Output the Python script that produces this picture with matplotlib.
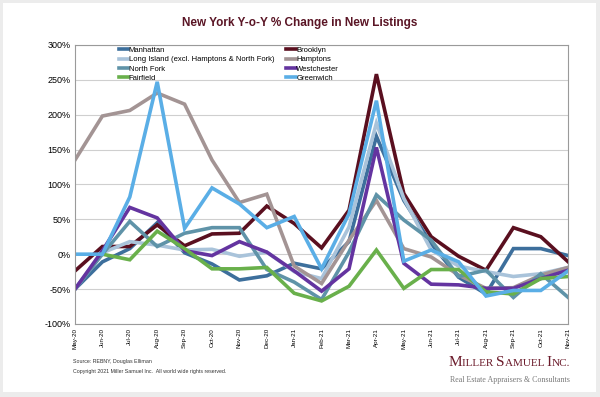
import numpy as np
import matplotlib.pyplot as plt
from matplotlib.patches import Rectangle
from matplotlib.offsetbox import TextArea, HPacker, AnnotationBbox

plt.rcParams['font.family'] = ['Liberation Sans', 'DejaVu Sans']

months = ['May-20', 'Jun-20', 'Jul-20', 'Aug-20', 'Sep-20', 'Oct-20', 'Nov-20', 'Dec-20',
          'Jan-21', 'Feb-21', 'Mar-21', 'Apr-21', 'May-21', 'Jun-21', 'Jul-21', 'Aug-21',
          'Sep-21', 'Oct-21', 'Nov-21']

nan = np.nan
manhattan = [-50, -11, 8, 45, 2, -14, -37, -31, -13, -21, 18, 169, 77, 15, -33, -57, 8, 8, -2]
brooklyn = [-24, 11, 11, 42, 12, 29, 30, 69, 44, 9, 63, 258, 87, 25, -3, -23, 38, 25, -11]
long_island = [-50, 2, 18, 13, 6, 7, -3, 3, -25, -35, 39, 188, 80, 6, -17, -25, -32, -28, -19]
hamptons = [135, 198, 206, 231, 215, 135, 74, 86, -17, -42, 20, 77, 8, -4, -30, -49, -48, -30, -19]
north_fork = [-50, 0, 47, 11, 30, 38, 38, -22, -40, -65, 3, 85, 49, 20, -32, -23, -62, -28, -62]
westchester = [-50, 5, 67, 52, 5, -2, 18, 3, -24, -53, -21, 153, -13, -43, -44, -49, -49, -35, -23]
fairfield = [nan, 0, -8, 33, 8, -21, -21, -19, -56, -67, -46, 6, -49, -22, -22, -54, -57, -35, -32]
greenwich = [0, 0, 82, 247, 37, 95, 72, 38, 54, -21, 58, 220, -10, 6, -11, -60, -52, -52, -24]

names = ['Manhattan', 'Brooklyn', 'Long Island (excl. Hamptons & North Fork)', 'Hamptons',
         'North Fork', 'Westchester', 'Fairfield', 'Greenwich']
series = [manhattan, brooklyn, long_island, hamptons, north_fork, westchester, fairfield, greenwich]
colors = ['#3d6f9c', '#5a0f1f', '#a9c3da', '#a39494', '#5f93a8', '#6434a0', '#69b04b', '#5aaee6']

fig = plt.figure(figsize=(6, 3.97), dpi=100)
fig.patch.set_facecolor('#ececec')
fig.patches.append(Rectangle((3 / 600, 5 / 397), 593 / 600, 389 / 397, transform=fig.transFigure,
                             facecolor='white', edgecolor='none', zorder=-10))

ax = fig.add_axes([0.125, 0.184, 0.822, 0.703])
x = np.arange(len(months))
lines = []
for name, vals, c in zip(names, series, colors):
    ln, = ax.plot(x, vals, color=c, lw=2.6, label=name, solid_joinstyle='miter')
    lines.append(ln)

ax.set_xlim(0, len(months) - 1)
ax.set_ylim(-100, 300)
ax.set_yticks(range(-100, 301, 50))
ax.set_yticklabels(['{}%'.format(v) for v in range(-100, 301, 50)], fontsize=6.5)
ax.set_xticks(x)
ax.set_xticklabels(months, rotation=90, fontsize=4.5)
ax.tick_params(length=0, pad=3)
ax.grid(axis='y', color='#cfcfcf', lw=0.8)
ax.set_axisbelow(True)
for s in ax.spines.values():
    s.set_color('#9a9a9a')
    s.set_linewidth(0.8)

order = [0, 2, 4, 6, 1, 3, 5, 7]
leg = ax.legend([lines[i] for i in order], [names[i] for i in order], ncol=2,
                loc='upper left', bbox_to_anchor=(115 / 600, 1 - 43 / 397),
                bbox_transform=fig.transFigure, frameon=False, fontsize=5.5,
                handlelength=1.2, handletextpad=0.1, labelspacing=0.25,
                columnspacing=1.6, borderpad=0)

fig.text(0.5, 1 - 23 / 397, 'New York Y-o-Y % Change in New Listings', ha='center', va='center',
         fontsize=8.5, fontweight='bold', color='#5a1525')

fig.text(73 / 600, 1 - 362 / 397, 'Source: REBNY, Douglas Elliman', fontsize=3.8, va='center', color='#333333')
fig.text(73 / 600, 1 - 372 / 397, 'Copyright 2021 Miller Samuel Inc.  All world wide rights reserved.',
         fontsize=3.8, va='center', color='#333333')

# small-caps style logo
logo_color = '#6b1a2a'
parts = [('M', 11), ('ILLER ', 8), ('S', 11), ('AMUEL ', 8), ('I', 11), ('NC.', 8)]
areas = [TextArea(t, textprops=dict(fontsize=s, family='Liberation Serif', color=logo_color))
         for t, s in parts]
logo = HPacker(children=areas, align='baseline', pad=0, sep=0)
ab = AnnotationBbox(logo, (570 / 600, 1 - 362 / 397), xycoords='figure fraction',
                    box_alignment=(1, 0.5), frameon=False)
fig.add_artist(ab)
fig.text(570 / 600, 1 - 380 / 397, 'Real Estate Appraisers & Consultants', ha='right', va='center',
         fontsize=5.7, family='Liberation Serif', color='#777777')

fig.savefig('out.png', dpi=100)
